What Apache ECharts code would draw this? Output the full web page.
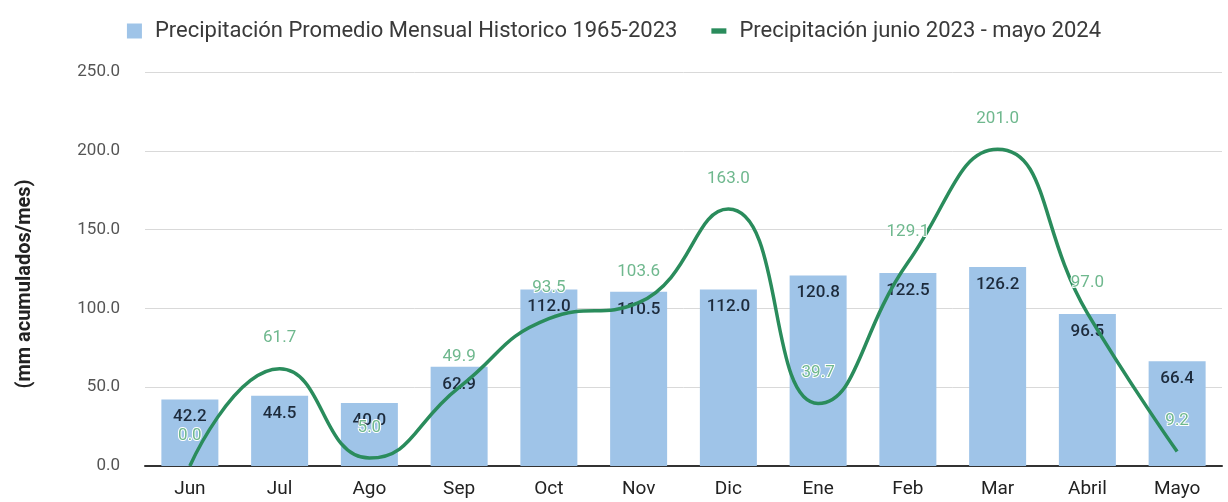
<!DOCTYPE html>
<html>
<head>
<meta charset="utf-8">
<style>
  html, body { margin: 0; padding: 0; background: #ffffff; }
  #chart { width: 1228px; height: 502px; }
</style>
<script src="https://cdn.jsdelivr.net/npm/echarts@6/dist/echarts.min.js"></script>
</head>
<body>
<div id="chart"></div>
<script>
// Months, June 2023 to May 2024
const months = ['Jun', 'Jul', 'Ago', 'Sep', 'Oct', 'Nov', 'Dic', 'Ene', 'Feb', 'Mar', 'Abril', 'Mayo'];

// Historic monthly average precipitation, 1965-2023 (mm)
const historicAvg = [42.2, 44.5, 40.0, 62.9, 112.0, 110.5, 112.0, 120.8, 122.5, 126.2, 96.5, 66.4];

// Precipitation for June 2023 - May 2024 (mm)
const season2324 = [0.0, 61.7, 5.0, 49.9, 93.5, 103.6, 163.0, 39.7, 129.1, 201.0, 97.0, 9.2];

// Y axis ticks
const yMin = 0, yMax = 250, yStep = 50;

const FONT = 'Roboto';
const chart = echarts.init(document.getElementById('chart'), null, { renderer: 'canvas' });

chart.setOption({
  backgroundColor: '#ffffff',
  animation: false,
  textStyle: { fontFamily: FONT },
  legend: {
    top: 15,
    left: 'center',
    itemGap: 34,
    itemWidth: 15,
    itemHeight: 15,
    textStyle: { fontFamily: FONT, fontSize: 22, color: '#3a3a3a', padding: [0, 0, 0, 8] },
    data: [
      { name: 'Precipitación Promedio Mensual Historico 1965-2023', icon: 'rect' },
      { name: 'Precipitación junio 2023 - mayo 2024', icon: 'path://M0,0 L14,0 L14,5 L0,5 Z', itemStyle: { color: '#2a8c5c' } }
    ]
  },
  grid: { left: 145, right: 6, top: 72, bottom: 36, containLabel: false },
  xAxis: {
    type: 'category',
    data: months,
    axisTick: { show: false },
    axisLine: { lineStyle: { color: '#333333', width: 2 } },
    axisLabel: { fontFamily: FONT, fontSize: 19, color: '#222222', margin: 14 }
  },
  yAxis: {
    type: 'value',
    min: yMin, max: yMax, interval: yStep,
    name: '(mm acumulados/mes)',
    nameLocation: 'middle',
    nameRotate: 90,
    nameGap: 110,
    nameTextStyle: {
      fontFamily: FONT, fontSize: 20, fontWeight: 'bold', color: '#222222',
      padding: [0, 30, 0, 0]
    },
    axisLine: { show: false },
    axisTick: { show: false },
    axisLabel: {
      fontFamily: FONT, fontSize: 17, color: '#555555', margin: 25,
      formatter: v => v.toFixed(1)
    },
    splitLine: { lineStyle: { color: '#d9d9d9', width: 1 } }
  },
  series: [
    {
      name: 'Precipitación Promedio Mensual Historico 1965-2023',
      type: 'bar',
      data: historicAvg,
      barWidth: 57,
      itemStyle: { color: '#9fc4e8' },
      label: {
        show: true,
        position: 'insideTop',
        distance: 9,
        fontFamily: FONT,
        fontSize: 17,
        fontWeight: 500,
        color: '#1d2b3c',
        formatter: p => p.value.toFixed(1)
      },
      z: 2
    },
    {
      name: 'Precipitación junio 2023 - mayo 2024',
      type: 'line',
      data: season2324,
      smooth: 0.5,
      showSymbol: true,
      symbol: 'circle',
      symbolSize: 0.1,
      lineStyle: { color: '#2a8c5c', width: 3.5 },
      itemStyle: { color: '#2a8c5c' },
      label: {
        show: true,
        position: 'top',
        distance: 22,
        fontFamily: FONT,
        fontSize: 17,
        color: '#6fb88e',
        textBorderColor: '#ffffff',
        textBorderWidth: 2,
        formatter: p => p.value.toFixed(1)
      },
      labelLayout: { hideOverlap: false },
      z: 3
    }
  ]
});
</script>
</body>
</html>
